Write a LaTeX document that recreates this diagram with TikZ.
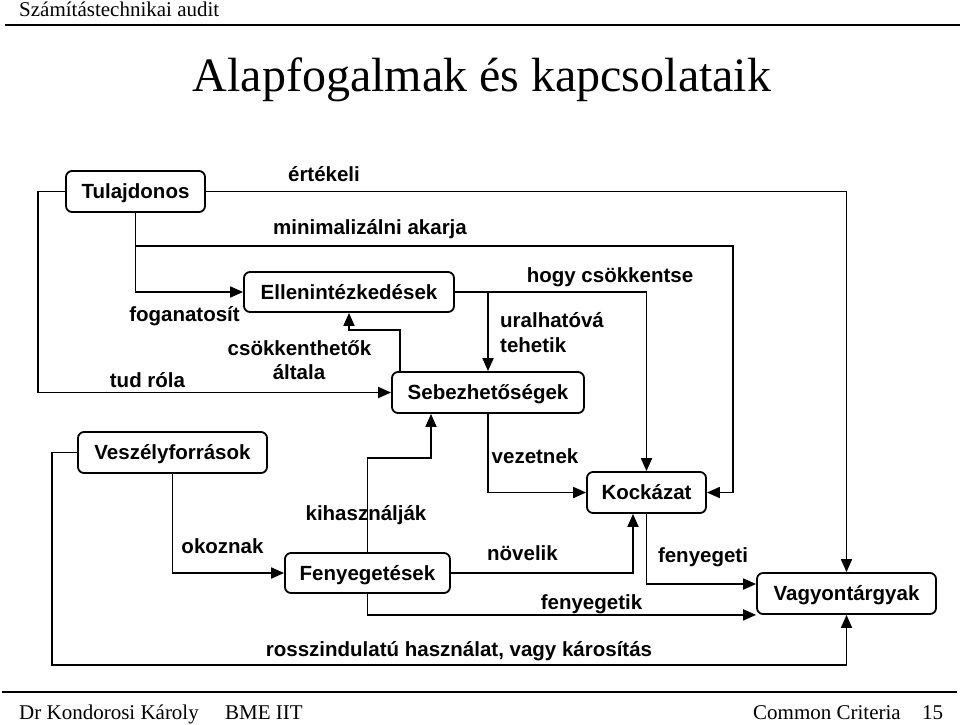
\documentclass[tikz,border=0pt]{standalone}
\usepackage{fontspec}
\setmainfont{Liberation Serif}
\newfontfamily\labfont{Liberation Sans}
\usetikzlibrary{arrows.meta}
\begin{document}
\begin{tikzpicture}[x=1pt,y=-1pt,
  lf/.style={font=\labfont\bfseries\fontsize{20.5}{24}\selectfont},
  box/.style={lf, draw, rounded corners=6pt, line width=1.8pt, inner sep=0pt,
              text height=14.6pt, text depth=0pt},
  lbl/.style={lf, anchor=base, inner sep=0pt},
  serif/.style={inner sep=0pt, anchor=base west, font=\fontsize{21}{24}\selectfont},
  conn/.style={line width=1.8pt},
  arr/.style={conn, -{Triangle[length=13pt,width=11pt]}},
  rule/.style={line width=1.6pt}
]
\useasboundingbox (0,0) rectangle (960,724);

% header / footer
\node[serif] (hdr) at (19,16.5) {Számítástechnikai audit};
\coordinate (hl) at (5,25);
\coordinate (hr) at (960,25);
\draw[rule] (hl) -- (hr);
\node[inner sep=0pt, anchor=base, font=\fontsize{48}{56}\selectfont] (title) at (482,91) {Alapfogalmak és kapcsolataik};
\coordinate (fl) at (2,692);
\coordinate (fr) at (957,692);
\draw[rule] (fl) -- (fr);
\node[serif] (f1) at (19,719) {Dr Kondorosi Károly};
\node[serif] (f2) at (225,719) {BME IIT};
\node[serif] (f3) at (753,719) {Common Criteria};
\node[serif] (f4) at (922,719) {15};

% boxes
\node[box, minimum width=139pt, minimum height=41pt] (tul)   at (135.5,191.5) {Tulajdonos};
\node[box, minimum width=210pt, minimum height=40pt] (ellen) at (349,292)     {Ellenintézkedések};
\node[box, minimum width=192pt, minimum height=41pt] (sebez) at (488,392.5)   {Sebezhetőségek};
\node[box, minimum width=189pt, minimum height=41pt] (vesz)  at (172.5,452.5) {Veszélyforrások};
\node[box, minimum width=119pt, minimum height=41pt] (kock)  at (646.5,492.5) {Kockázat};
\node[box, minimum width=165pt, minimum height=40pt] (feny)  at (367.5,573)   {Fenyegetések};
\node[box, minimum width=179pt, minimum height=41pt] (vagy)  at (846.5,593.5) {Vagyontárgyak};

% connectors
\draw[arr] (tul.west) -- (38,191.5) -- (38,392.5) -- (sebez.west);
\draw[arr] (tul.east) -| (vagy.north);
\draw[arr] (tul.south) |- (ellen.west);
\draw[arr] (tul.south |- 0,246) -- (733,246) |- (kock.east);
\draw[arr] (sebez.north -| 400,0) -- (400,330) -| (ellen.south);
\draw[arr] (ellen.east) -| (kock.north);
\draw[arr] (sebez.north |- ellen.east) -- (sebez.north);
\draw[arr] (sebez.south) |- (kock.west);
\draw[arr] (kock.south) |- (vagy.west |- 0,584);
\draw[arr] (vesz.west) -- (52,452.5) -- (52,665) -| (vagy.south);
\draw[arr] (vesz.south) |- (feny.west);
\draw[arr] (feny.north) -- (367.5,458) -| (sebez.south -| 431,0);
\draw[arr] (feny.east) -| (kock.south -| 633,0);
\draw[arr] (feny.south) |- (vagy.south west);

% labels
\node[lbl] (l1)  at (324,181)   {értékeli};
\node[lbl] (l2)  at (370,234)   {minimalizálni akarja};
\node[lbl] (l3)  at (184.5,321) {foganatosít};
\node[lbl] (l4)  at (299.5,355) {csökkenthetők};
\node[lbl] (l5)  at (299,379)   {általa};
\node[lbl] (l6)  at (147.5,387) {tud róla};
\node[lbl] (l7)  at (610,282)   {hogy csökkentse};
\node[lbl, anchor=base west] (l8) at (500,327) {uralhatóvá};
\node[lbl, anchor=base west] (l9) at (500,352) {tehetik};
\node[lbl] (l10) at (535,463)   {vezetnek};
\node[lbl] (l11) at (366,520)   {kihasználják};
\node[lbl] (l12) at (222.5,553) {okoznak};
\node[lbl] (l13) at (522.5,560) {növelik};
\node[lbl] (l14) at (703,562)   {fenyegeti};
\node[lbl] (l15) at (591.5,609.5) {fenyegetik};
\node[lbl] (l16) at (459,656)   {rosszindulatú használat, vagy károsítás};
\end{tikzpicture}
\end{document}
